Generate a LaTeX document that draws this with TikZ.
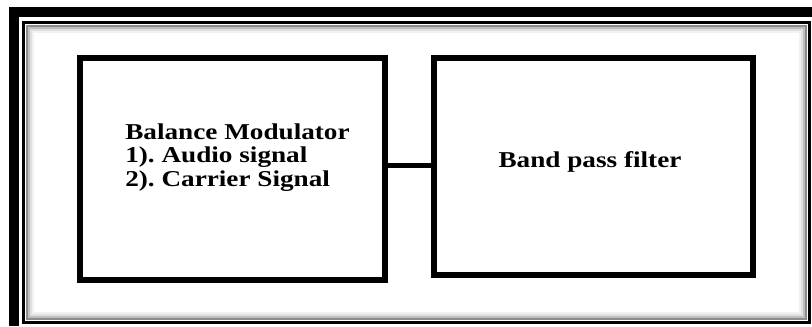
\documentclass[tikz,border=0pt]{standalone}
\usepackage{fontspec}
\newfontfamily\blockfont[FakeStretch=1.2]{Liberation Serif}
\frenchspacing

\begin{document}
\begin{tikzpicture}[x=0.75pt, y=-0.75pt,
  every node/.append style={font=\blockfont\bfseries\fontsize{17}{17.6}\selectfont, inner sep=0pt},
  block/.style={draw, line width=4.5pt}]
  \useasboundingbox (0,0) rectangle (812,326);
  % frame
  \fill (9,7) rectangle (812,17); \fill (9,7) rectangle (19,326);
  \foreach \d/\c in {3/45,5/25,7/12,9/5}
    \draw[black!\c, line width=1.5pt] (23.5+\d,22.5+\d) rectangle (809-\d,322-\d);
  \draw[line width=2.25pt] (23.5,22.5) rectangle (809,322);
  % blocks
  \node[block, minimum width=228.75pt, minimum height=166.5pt] (bm) at (232.5,169) {};
  \node[block, minimum width=239.25pt, minimum height=162.75pt] (bpf) at (593.5,166.5) {};
  \node[anchor=base west, align=left] (bmtext) at (125,186) {Balance Modulator\\1). Audio signal\\2). Carrier Signal};
  \node[anchor=base] (bpftext) at (590,167) {Band pass filter};
  \coordinate (link) at (410,165);
  \draw[line width=3.75pt] (bm.east |- link) -- (bpf.west |- link);
\end{tikzpicture}
\end{document}
